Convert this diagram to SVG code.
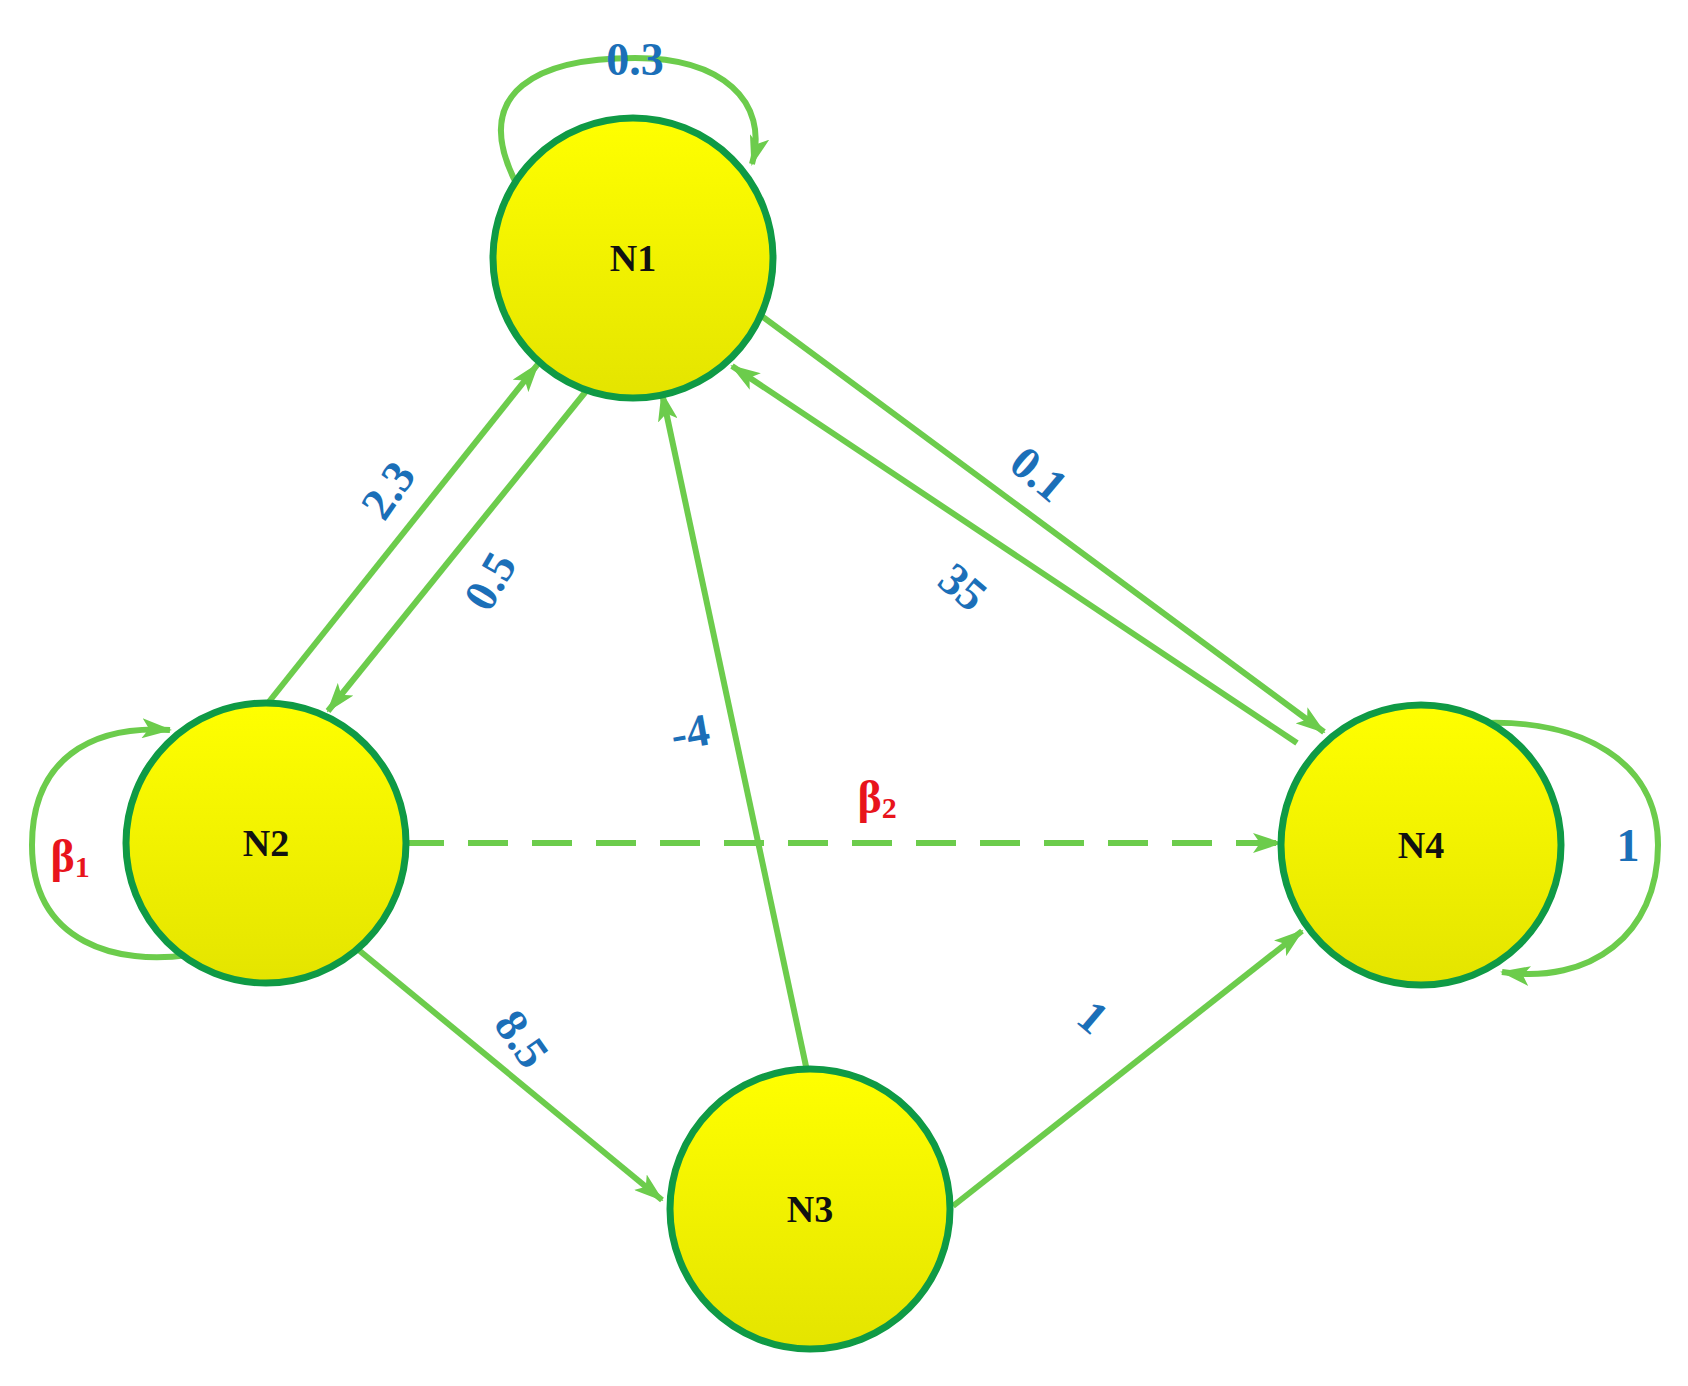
<svg xmlns="http://www.w3.org/2000/svg" width="1688" height="1386" viewBox="0 0 1688 1386">
<defs>
<linearGradient id="g" x1="0" y1="0" x2="0" y2="1"><stop offset="0" stop-color="#ffff00"/><stop offset="1" stop-color="#e4e400"/></linearGradient>
<marker id="a" viewBox="0 0 10 10" refX="9" refY="5" markerWidth="6" markerHeight="6" markerUnits="userSpaceOnUse" orient="auto" style="overflow:visible"><path d="M0,0 L10,5 L0,10 L2,5 z" fill="#6ccc4c" transform="scale(3.2) translate(-7,-5) translate(7,5) translate(-6.9,-3.4) scale(1) "/></marker>
<marker id="m" viewBox="0 0 30 20" refX="28" refY="10" markerWidth="30" markerHeight="20" markerUnits="userSpaceOnUse" orient="auto"><path d="M0,0 L30,10 L0,20 L7,10 z" fill="#6ccc4c"/></marker>
</defs>
<style>
.e{fill:none;stroke:#6ccc4c;stroke-width:6;marker-end:url(#m)}
.n{fill:url(#g);stroke:#0f9a45;stroke-width:7}
.t{font-family:"Liberation Serif",serif;font-weight:bold;font-size:38px;fill:#111;text-anchor:middle;dominant-baseline:central}
.l{font-family:"Liberation Serif",serif;font-weight:bold;font-size:46px;fill:#1b6fb8;text-anchor:middle;dominant-baseline:central}
.r{font-family:"Liberation Serif",serif;font-weight:bold;font-size:46px;fill:#e8141c;text-anchor:middle;dominant-baseline:central}
</style>
<rect width="1688" height="1386" fill="#fff"/>
<g id="connectors">
<line class="e" x1="264" y1="708" x2="538" y2="364"/>
<line class="e" x1="587" y1="390" x2="328" y2="711"/>
<line class="e" x1="759" y1="314" x2="1324" y2="732"/>
<line class="e" x1="1297" y1="743" x2="732" y2="366"/>
<line class="e" x1="807" y1="1071" x2="662" y2="393"/>
<line class="e" x1="355" y1="947" x2="662" y2="1200"/>
<line class="e" x1="953" y1="1206" x2="1302" y2="931"/>
<line class="e" x1="404" y1="843" x2="1281" y2="843" stroke-dasharray="40,24"/>
<path class="e" d="M515,181 C470,90 540,58 635,58 C720,58 770,100 752,164"/>
<path class="e" d="M188,955 C120,965 32,945 32,845 C32,760 90,725 170,730"/>
<path class="e" d="M1486,723 C1580,720 1658,760 1658,845 C1658,935 1590,985 1502,972"/>
<text class="l" x="635" y="59">0.3</text>
<text class="l" transform="translate(388,490) rotate(-55)">2.3</text>
<text class="l" transform="translate(490,581) rotate(-60)">0.5</text>
<text class="l" transform="translate(1039,474) rotate(40)">0.1</text>
<text class="l" transform="translate(963,587) rotate(40)">35</text>
<text class="l" transform="translate(690,732) rotate(-10)">-4</text>
<text class="l" transform="translate(522,1039) rotate(55)">8.5</text>
<text class="l" transform="translate(1093,1017) rotate(40)">1</text>
<text class="l" x="1628" y="845">1</text>
<text class="r" x="877" y="797">β<tspan font-size="30" dy="10">2</tspan></text>
<text class="r" x="70" y="856">β<tspan font-size="30" dy="10">1</tspan></text>
</g>
<g id="N1"><circle class="n" cx="633" cy="258" r="140"/><text class="t" x="633" y="258">N1</text></g>
<g id="N2"><circle class="n" cx="266" cy="843" r="140"/><text class="t" x="266" y="843">N2</text></g>
<g id="N3"><circle class="n" cx="810" cy="1209" r="140"/><text class="t" x="810" y="1209">N3</text></g>
<g id="N4"><circle class="n" cx="1421" cy="845" r="140"/><text class="t" x="1421" y="845">N4</text></g>
</svg>
